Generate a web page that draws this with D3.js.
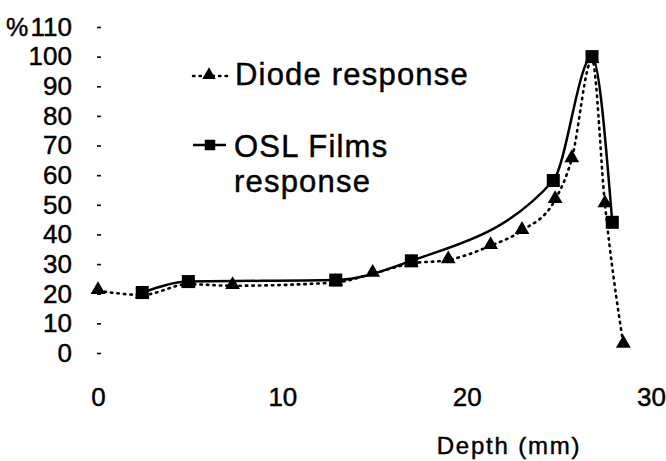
<!DOCTYPE html>
<html>
<head>
<meta charset="utf-8">
<script src="https://cdn.jsdelivr.net/npm/d3@7"></script>
<style>
  html, body { margin: 0; padding: 0; background: #fff; }
  svg { display: block; }
  text { font-family: "Liberation Sans", Arial, Helvetica, sans-serif; fill: #000; stroke: #000; stroke-width: 0.45px; }
</style>
</head>
<body>
<svg id="chart" width="666" height="461"></svg>
<script>
// Relative response (%) versus depth (mm)
const diodeDepth = [0, 2.4, 4.9, 7.3, 12.9, 14.9, 17.0, 19.0, 21.3, 23.0, 24.8, 25.7, 26.8, 27.5, 28.5];
const diodeValue = [21, 19.6, 23.2, 22.7, 23.8, 26.8, 30.2, 31.4, 36.2, 41.3, 51.7, 65.5, 99, 50.3, 2.9];

const oslDepth = [2.4, 4.9, 12.9, 17.0, 24.7, 26.8, 27.9];
const oslValue = [20.4, 24.1, 24.6, 31.1, 58.2, 100, 44.1];

const xTicks = [0, 10, 20, 30];
const yTicks = [0, 10, 20, 30, 40, 50, 60, 70, 80, 90, 100, 110];

const seriesNames = ["Diode response", "OSL Films", "response"];

const svg = d3.select("#chart");

const x = d3.scaleLinear().domain([0, 30]).range([98, 651]);
const y = d3.scaleLinear().domain([0, 110]).range([353, 27]);

// y axis: short dashes, labels on the left
const yAxis = svg.append("g")
  .attr("transform", "translate(101,0)")
  .call(d3.axisLeft(y).tickValues(yTicks).tickSize(4).tickPadding(25).tickFormat(d3.format("d")));
yAxis.select(".domain").remove();
yAxis.selectAll(".tick line").attr("stroke", "#000").attr("stroke-width", 1.6);
yAxis.selectAll(".tick text").style("font-size", "26px").attr("fill", "#000");

// "%" unit marker beside the top label
svg.append("text")
  .attr("x", 6).attr("y", 36)
  .style("font-size", "25px")
  .text("%");

// x axis: labels only
const xAxis = svg.append("g")
  .attr("transform", "translate(0,388)")
  .call(d3.axisBottom(x).tickValues(xTicks).tickSize(0).tickPadding(0).tickFormat(d3.format("d")));
xAxis.select(".domain").remove();
xAxis.selectAll(".tick text").style("font-size", "26px").attr("fill", "#000");

svg.append("text")
  .attr("x", 509).attr("y", 454)
  .attr("text-anchor", "middle")
  .style("font-size", "24px")
  .style("letter-spacing", "1.8px")
  .text("Depth (mm)");

const diode = diodeDepth.map((d, i) => ({ x: d, y: diodeValue[i] }));
const osl = oslDepth.map((d, i) => ({ x: d, y: oslValue[i] }));

const line = d3.line().x(d => x(d.x)).y(d => y(d.y)).curve(d3.curveMonotoneX);

// Diode: dotted line with triangles
svg.append("path")
  .datum(diode)
  .attr("d", line)
  .attr("fill", "none")
  .attr("stroke", "#000")
  .attr("stroke-width", 2.6)
  .attr("stroke-dasharray", "1.5,5")
  .attr("stroke-linecap", "round");

// OSL films: solid line with squares
svg.append("path")
  .datum(osl)
  .attr("d", line)
  .attr("fill", "none")
  .attr("stroke", "#000")
  .attr("stroke-width", 2.5);

const tri = d3.symbol().type(d3.symbolTriangle).size(95);
const sq = d3.symbol().type(d3.symbolSquare).size(170);

// Triangles that sit under a square are hidden by it, so draw triangles first
svg.append("g").selectAll("path")
  .data(diode)
  .join("path")
  .attr("transform", d => `translate(${x(d.x)},${y(d.y) - 1})`)
  .attr("d", tri)
  .attr("fill", "#000");

svg.append("g").selectAll("path")
  .data(osl)
  .join("path")
  .attr("transform", d => `translate(${x(d.x)},${y(d.y)})`)
  .attr("d", sq)
  .attr("fill", "#000");

// Legend
const lg = svg.append("g");
lg.append("line")
  .attr("x1", 193).attr("x2", 227).attr("y1", 76).attr("y2", 76)
  .attr("stroke", "#000").attr("stroke-width", 2.4)
  .attr("stroke-dasharray", "1.5,5").attr("stroke-linecap", "round");
lg.append("path")
  .attr("transform", "translate(209,75)")
  .attr("d", d3.symbol().type(d3.symbolTriangle).size(80))
  .attr("fill", "#000");
lg.append("text")
  .attr("x", 235).attr("y", 85)
  .style("font-size", "31px")
  .style("letter-spacing", "1.2px")
  .text(seriesNames[0]);

lg.append("line")
  .attr("x1", 193).attr("x2", 226).attr("y1", 145).attr("y2", 145)
  .attr("stroke", "#000").attr("stroke-width", 2.6);
lg.append("path")
  .attr("transform", "translate(210,145)")
  .attr("d", d3.symbol().type(d3.symbolSquare).size(110))
  .attr("fill", "#000");
lg.append("text")
  .attr("x", 234).attr("y", 157)
  .style("font-size", "31px")
  .style("letter-spacing", "1.2px")
  .text(seriesNames[1]);
lg.append("text")
  .attr("x", 234).attr("y", 192)
  .style("font-size", "31px")
  .style("letter-spacing", "1.2px")
  .text(seriesNames[2]);
</script>
</body>
</html>
